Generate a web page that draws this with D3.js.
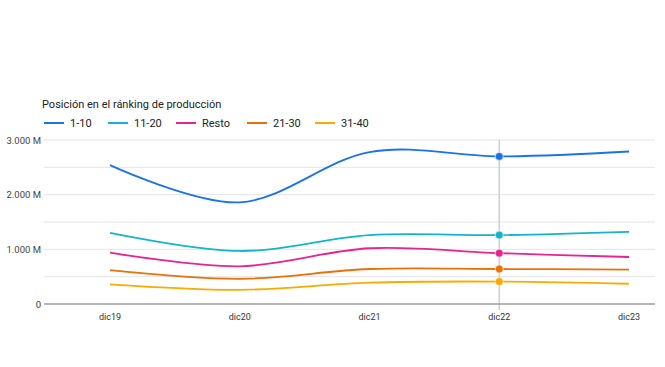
<!DOCTYPE html>
<html>
<head>
<meta charset="utf-8">
<script src="https://cdn.jsdelivr.net/npm/d3@7"></script>
<style>
  body { margin: 0; background: #fff; }
  svg { font-family: Roboto, "Noto Sans", sans-serif; }
</style>
</head>
<body>
<div id="chart"></div>
<script>
// months on the x axis
const months = ["dic19", "dic20", "dic21", "dic22", "dic23"];
// series names, in legend order
const groups = ["1-10", "11-20", "Resto", "21-30", "31-40"];
const colors = ["#1a73e8", "#12b5cb", "#e52592", "#e8710a", "#f9ab00"];
// production values in millions
const top10   = [2540, 1860, 2780, 2700, 2790];
const top20   = [1300, 970, 1260, 1260, 1320];
const resto   = [940, 690, 1020, 930, 860];
const top30   = [620, 460, 640, 640, 630];
const top40   = [360, 260, 390, 410, 370];
const yTicks = [0, 1000, 2000, 3000];
const yGrid = [500, 1000, 1500, 2000, 2500, 3000];
const highlight = "dic22";

const series = [top10, top20, resto, top30, top40];

const width = 665, height = 367;
const svg = d3.select("#chart").append("svg")
    .attr("width", width)
    .attr("height", height);

const x = d3.scalePoint().domain(months).range([110, 629]);
const y = d3.scaleLinear().domain([0, 3000]).range([304, 140]);
const plotLeft = 44, plotRight = 655;

// title
svg.append("text")
    .attr("x", 42).attr("y", 108)
    .attr("font-size", 11)
    .attr("fill", "#222")
    .text("Posición en el ránking de producción");

// legend
const legendX = [44, 108, 176, 247, 315];
const legend = svg.selectAll(".legend").data(groups).enter()
    .append("g")
    .attr("class", "legend")
    .attr("transform", (d, i) => "translate(" + legendX[i] + ",123)");
legend.append("line")
    .attr("x1", 0).attr("x2", 20)
    .attr("stroke", (d, i) => colors[i])
    .attr("stroke-width", 2);
legend.append("text")
    .attr("x", 26).attr("y", 4)
    .attr("font-size", 11)
    .attr("fill", "#222")
    .text(d => d);

// grid
svg.selectAll(".grid").data(yGrid).enter()
    .append("line")
    .attr("class", "grid")
    .attr("x1", plotLeft).attr("x2", plotRight)
    .attr("y1", d => y(d)).attr("y2", d => y(d))
    .attr("stroke", "#e4e4e4")
    .attr("stroke-width", 1);

// y labels
svg.selectAll(".ylab").data(yTicks).enter()
    .append("text")
    .attr("class", "ylab")
    .attr("x", 41)
    .attr("y", d => y(d) + 3.5)
    .attr("text-anchor", "end")
    .attr("font-size", 9.5)
    .attr("fill", "#444")
    .text(d => d === 0 ? "0" : d3.format(",")(d).replace(/,/g, ".") + " M");

// x labels
svg.selectAll(".xlab").data(months).enter()
    .append("text")
    .attr("class", "xlab")
    .attr("x", d => x(d))
    .attr("y", 320)
    .attr("text-anchor", "middle")
    .attr("font-size", 9)
    .attr("fill", "#333")
    .text(d => d);

// hover line
svg.append("line")
    .attr("x1", x(highlight)).attr("x2", x(highlight))
    .attr("y1", 140).attr("y2", 310)
    .attr("stroke", "#cfcfcf")
    .attr("stroke-width", 1.5);

// baseline
svg.append("line")
    .attr("x1", plotLeft).attr("x2", plotRight)
    .attr("y1", y(0)).attr("y2", y(0))
    .attr("stroke", "#9e9e9e")
    .attr("stroke-width", 1.5);

const line = d3.line()
    .x((d, i) => x(months[i]))
    .y(d => y(d))
    .curve(d3.curveCardinal.tension(0));

// draw back to front so top series is on top
for (let s = series.length - 1; s >= 0; s--) {
    svg.append("path")
        .datum(series[s])
        .attr("d", line)
        .attr("fill", "none")
        .attr("stroke", colors[s])
        .attr("stroke-width", 1.8);
}

const hi = months.indexOf(highlight);
series.forEach((vals, s) => {
    svg.append("circle")
        .attr("cx", x(highlight))
        .attr("cy", y(vals[hi]))
        .attr("r", 4)
        .attr("fill", colors[s])
        .attr("stroke", "#fff")
        .attr("stroke-opacity", 0.6)
        .attr("stroke-width", 1);
});
</script>
</body>
</html>
